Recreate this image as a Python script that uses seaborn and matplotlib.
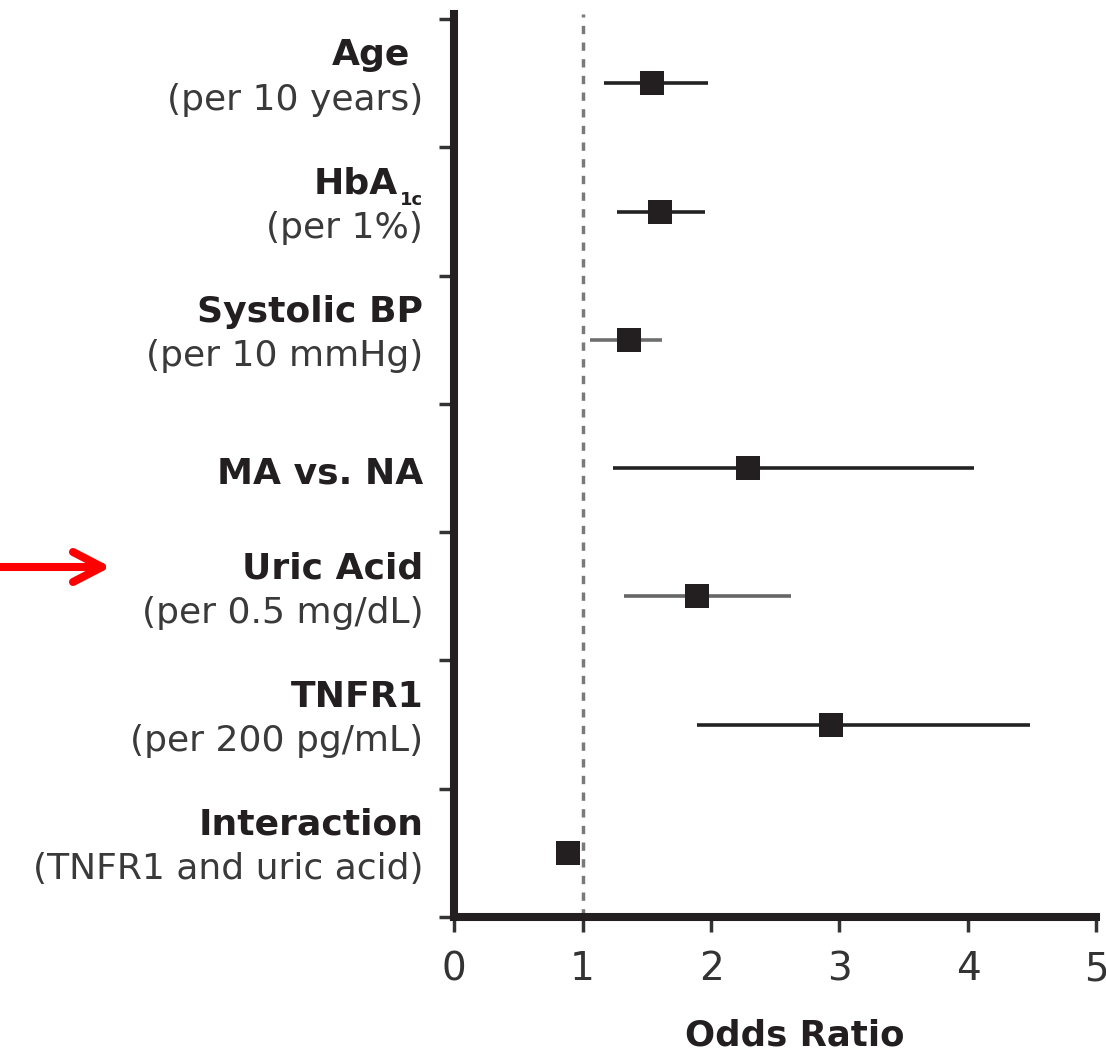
import numpy as np
import pandas as pd
import matplotlib
matplotlib.use("Agg")
import matplotlib.pyplot as plt
import seaborn as sns
from matplotlib.lines import Line2D

# ---- data ----
labels_main = ["Age", "HbA", "Systolic BP", "MA vs. NA", "Uric Acid", "TNFR1", "Interaction"]
labels_sub = ["(per 10 years)", "(per 1%)", "(per 10 mmHg)", "", "(per 0.5 mg/dL)",
              "(per 200 pg/mL)", "(TNFR1 and uric acid)"]
odds_ratio = [1.54, 1.60, 1.36, 2.29, 1.89, 2.93, 0.89]
ci_lower = [1.17, 1.27, 1.06, 1.24, 1.32, 1.89, 0.88]
ci_upper = [1.98, 1.95, 1.62, 4.05, 2.62, 4.48, 0.90]
x_ticks = [0, 1, 2, 3, 4, 5]

df = pd.DataFrame({"label": labels_main, "sub": labels_sub, "or": odds_ratio,
                   "lo": ci_lower, "hi": ci_upper})
df["row"] = np.arange(len(df))

sns.set_theme(style="white")
plt.rcParams["font.family"] = ["DejaVu Sans"]

dark = "#231f20"
fig = plt.figure(figsize=(11.06, 10.52), dpi=100)
ax = fig.add_axes([0.4105, 0.1283, 0.5809, 0.8584])

# reference line at OR = 1
ax.axvline(1, color="#7a7a7a", lw=2.5, ls=(0, (2.4, 2.4)), zorder=1)

# confidence intervals
line_cols = ["#222222", "#222222", "#6e6e6e", "#222222", "#666666", "#222222", "#222222"]
ax.hlines(df["row"], df["lo"], df["hi"], colors=line_cols, lw=2.6, zorder=2)

# point estimates
sns.scatterplot(data=df, x="or", y="row", marker="s", s=290, color=dark,
                linewidth=0, ax=ax, zorder=3, legend=False)

ax.set_xlim(0, 5)
ax.set_ylim(6.5, -0.54)
ax.set_xlabel("")
ax.set_ylabel("")

for side in ["top", "right"]:
    ax.spines[side].set_visible(False)
for side in ["left", "bottom"]:
    ax.spines[side].set_linewidth(5.8)
    ax.spines[side].set_color(dark)

ax.set_yticks(np.arange(-0.5, len(df), 1))
ax.set_yticklabels([])
ax.set_xticks(x_ticks)
ax.set_xticklabels([str(t) for t in x_ticks])
ax.tick_params(axis="y", left=True, direction="out", length=11, width=2.5, color="#333333")
ax.tick_params(axis="x", bottom=True, direction="out", length=11, width=2.5,
               color="#333333", pad=13, labelsize=28, labelcolor="#333333")

# row labels
tr = ax.get_yaxis_transform()
xr = -0.048
for _, r in df.iterrows():
    i = r["row"]
    if r["sub"]:
        yb = i - 0.14
        ax.text(xr, i + 0.205, r["sub"], transform=tr, ha="right", va="baseline",
                fontsize=26, color="#3a3a3a")
    else:
        yb = i + 0.12
    if r["label"] == "HbA":
        ax.text(xr - 0.039, yb, r["label"], transform=tr, ha="right", va="baseline",
                fontsize=26, fontweight="bold", color=dark)
        ax.text(xr, yb + 0.086, "1c", transform=tr, ha="right", va="baseline",
                fontsize=13, fontweight="bold", color=dark)
    else:
        txt = r["label"]
        xx = xr - 0.02 if txt == "Age" else xr
        ax.text(xx, yb, txt, transform=tr, ha="right", va="baseline",
                fontsize=26, fontweight="bold", color=dark)

ax.set_xlabel("Odds Ratio", fontsize=25.6, fontweight="bold", color=dark, va="center")
ax.xaxis.set_label_coords(0.531, -0.1307)

# red arrow (figure pixels)
W, H = 1106.0, 1052.0
def fp(x, y):
    return x / W, 1 - y / H
segs = [((0, 567), (98, 567)), ((73, 552), (102, 567)), ((73, 582), (102, 567))]
for (a, b) in segs:
    (x0, y0), (x1, y1) = fp(*a), fp(*b)
    fig.add_artist(Line2D([x0, x1], [y0, y1], transform=fig.transFigure, color="#ff0000",
                          lw=5.8, solid_capstyle="round"))

fig.savefig("out.png", dpi=100)
